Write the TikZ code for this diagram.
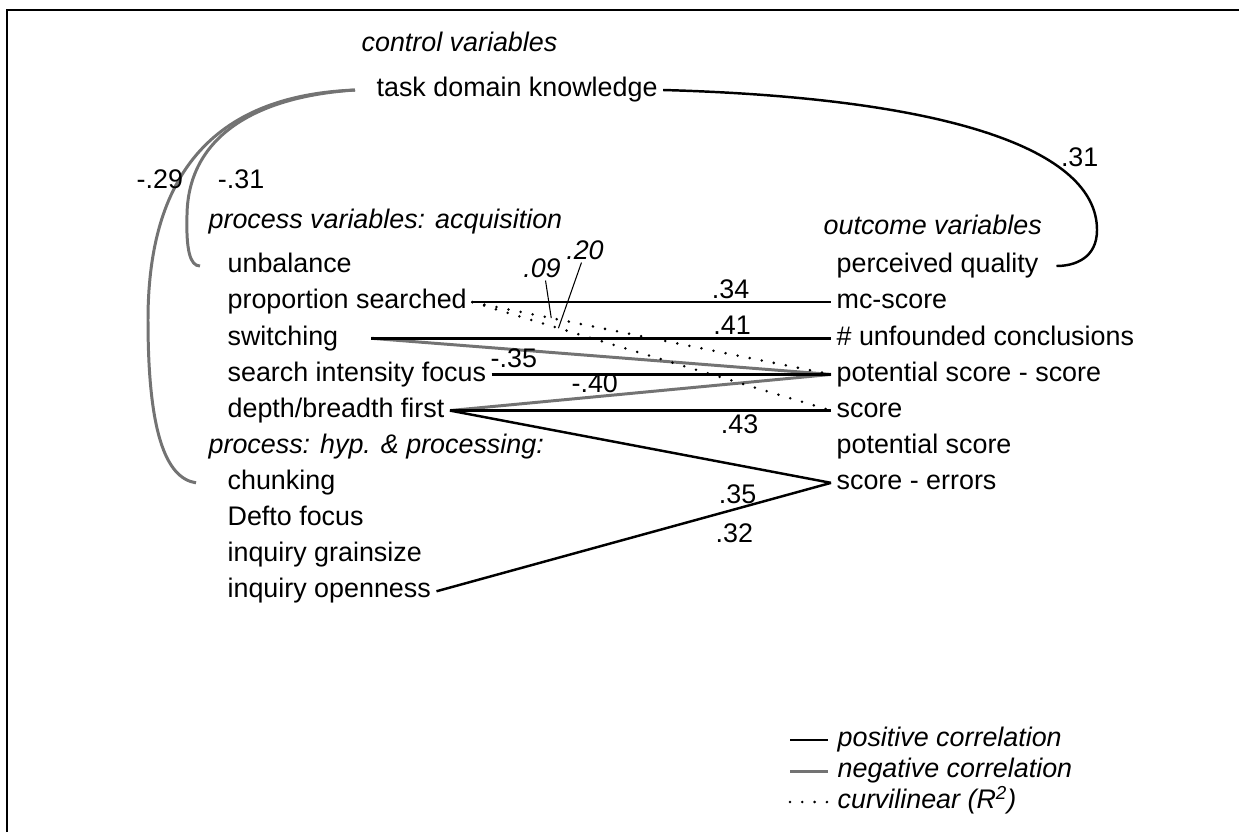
\documentclass[tikz,border=0pt]{standalone}
\usepackage{fontspec}
\setmainfont{Liberation Sans}
\usetikzlibrary{positioning}

\begin{document}
\fontsize{15.3}{18}\selectfont
\begin{tikzpicture}[x=0.02cm,y=0.02cm,
  var/.style={anchor=west, inner xsep=3pt, inner ysep=3.2pt, text height=0.7em, text depth=0.2em},
  lab/.style={inner sep=1.5pt},
  poscor/.style={draw=black, line width=1.4pt},
  negcor/.style={draw=black!55, line width=1.7pt},
  curvi/.style={draw=black, line width=1.6pt, line cap=round, dash pattern=on 0pt off 7pt},
  lead/.style={draw=black, line width=0.6pt}]
\useasboundingbox (0,0) rectangle (1239,-832);
\draw[line width=1.4pt] (7,-832) -- (7,-10) -- (1239,-10);

% control variables
\node[var,font=\itshape] (ctl) at (356,-45) {control variables};
\node[var] (tdk) at (371,-90) {task domain knowledge};

% process variables
\node[var,font=\itshape] (acq) at (203,-222) {process variables: acquisition};
\node[var] (unb) at (222,-266) {unbalance};
\node[var, below=0pt of unb.south west, anchor=north west] (ps) {proportion searched};
\node[var, below=0pt of ps.south west, anchor=north west] (sw) {switching};
\node[var, below=0pt of sw.south west, anchor=north west] (sif) {search intensity focus};
\node[var, below=0pt of sif.south west, anchor=north west] (dbf) {depth/breadth first};
\node[var,font=\itshape, below=0pt of dbf.south west, anchor=north west, xshift=-0.38cm] (hyp) {process: hyp. \& processing:};
\node[var, below=0pt of hyp.south west, anchor=north west, xshift=0.38cm] (ch) {chunking};
\node[var, below=0pt of ch.south west, anchor=north west] (dft) {Defto focus};
\node[var, below=0pt of dft.south west, anchor=north west] (igs) {inquiry grainsize};
\node[var, below=0pt of igs.south west, anchor=north west] (iop) {inquiry openness};

% outcome variables
\node[var,font=\itshape] (out) at (818,-228) {outcome variables};
\node[var] (pq) at (831,-266) {perceived quality};
\node[var, below=0pt of pq.south west, anchor=north west] (mc) {mc-score};
\node[var, below=0pt of mc.south west, anchor=north west] (unf) {\# unfounded conclusions};
\node[var, below=0pt of unf.south west, anchor=north west] (pss) {potential score - score};
\node[var, below=0pt of pss.south west, anchor=north west] (sc) {score};
\node[var, below=0pt of sc.south west, anchor=north west] (pot) {potential score};
\node[var, below=0pt of pot.south west, anchor=north west] (se) {score - errors};

% control -> process / outcome
\draw[negcor] ([xshift=-0.32cm]tdk.west) .. controls (200,-96) and (148,-190) .. (148,-320)
   .. controls (148,-430) and (165,-478) .. ([xshift=-0.52cm]ch.west);
\draw[negcor] ([xshift=-0.32cm]tdk.west) .. controls (250,-97) and (188,-140) .. (187,-215)
   .. controls (186,-250) and (190,-266) .. ([xshift=-0.44cm]unb.west);
\node[lab, anchor=east] (l29) at (186,-179) {-.29};
\node[lab, anchor=west] (l31) at (215,-179) {-.31};
\draw[poscor] (tdk.east) .. controls (950,-98) and (1097,-150) .. (1097,-230)
   .. controls (1097,-258) and (1075,-266) .. ([xshift=0.25cm]pq.east);
\node[lab, anchor=west] (r31) at (1058,-157) {.31};

% process -> outcome
\draw[negcor] ([xshift=0.55cm]sw.east) -- node[lab,below=-3pt,pos=0.31] {-.35} (pss.west);
\draw[negcor] (dbf.east) -- node[lab,above,pos=0.38] {-.40} (pss.west);
\draw[curvi] (ps.east) -- coordinate[pos=0.22] (c09) (pss.west);
\draw[curvi] (ps.east) -- coordinate[pos=0.24] (c20) (sc.west);
\draw[poscor] (ps.east) -- node[lab,above,pos=0.72] {.34} (mc.west);
\draw[poscor] ([xshift=0.55cm]sw.east) -- node[lab,above,pos=0.785] {.41} (unf.west);
\draw[poscor] (sif.east) -- (pss.west);
\draw[poscor] (dbf.east) -- node[lab,below,pos=0.76] {.43} (sc.west);
\draw[poscor] (dbf.east) -- node[lab,below=9pt,pos=0.755] {.35} (se.west);
\draw[poscor] (iop.east) -- node[lab,below=6pt,pos=0.755] {.32} (se.west);

% curvilinear values
\node[lab,font=\itshape] (l09) at (542,-268) {.09};
\node[lab,font=\itshape] (l20) at (585,-250) {.20};
\draw[lead] ([xshift=2pt]l09.south) -- (c09);
\draw[lead] ([xshift=-2pt]l20.south) -- (c20);

% legend
\node[var,font=\itshape] (lpos) at (832,-740) {positive correlation};
\node[var,font=\itshape] (lneg) at (832,-771) {negative correlation};
\node[var,font=\itshape] (lcur) at (832,-802) {curvilinear (R\textsuperscript{2})};
\draw[poscor] ([xshift=-0.84cm]lpos.west) -- ([xshift=-0.08cm]lpos.west);
\draw[negcor] ([xshift=-0.84cm]lneg.west) -- ([xshift=-0.08cm]lneg.west);
\draw[curvi] ([xshift=-0.84cm]lcur.west) -- ([xshift=-0.08cm]lcur.west);
\end{tikzpicture}
\end{document}
